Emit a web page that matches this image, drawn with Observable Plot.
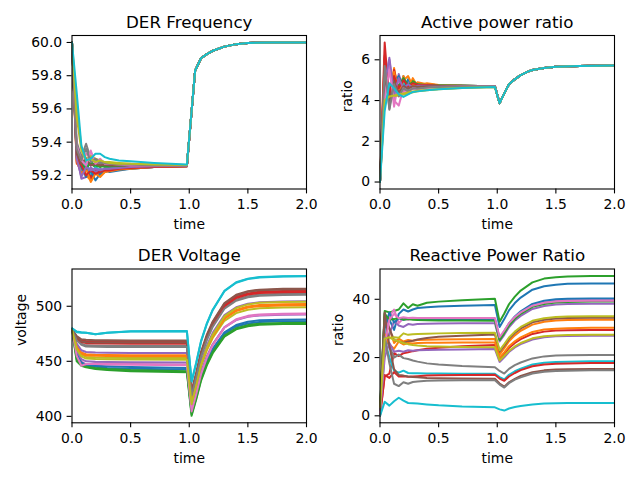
<!DOCTYPE html>
<html><head><meta charset="utf-8">
<script src="https://cdn.jsdelivr.net/npm/d3@7"></script>
<script src="https://cdn.jsdelivr.net/npm/@observablehq/plot@0.6"></script>
<style>
html,body{margin:0;padding:0;background:#fff;}
#fig{position:relative;width:640px;height:480px;overflow:hidden;background:#fff;}
#fig svg{position:absolute;left:0;top:0;overflow:visible;}
</style></head><body><div id="fig"></div>
<script>
const tab10 = ["#1f77b4","#ff7f0e","#2ca02c","#d62728","#9467bd","#8c564b","#e377c2","#7f7f7f","#bcbd22","#17becf"];
const titles = ["DER Frequency", "Active power ratio", "DER Voltage", "Reactive Power Ratio"];
const yLabels = [null, "ratio", "voltage", "ratio"];
const xLabel = "time";
const xTicks = [0, 0.5, 1, 1.5, 2];
const freqTicks = [59.2, 59.4, 59.6, 59.8, 60.0];
const activeTicks = [0, 2, 4, 6];
const voltTicks = [400, 450, 500];
const reactTicks = [0, 20, 40];

// time grids
const tEarly = [0, 0.04, 0.08, 0.12, 0.16, 0.2, 0.24, 0.28, 0.32, 0.4, 0.5, 0.7, 0.98];
const tFreqTail = [1.05, 1.1, 1.15, 1.2, 1.3, 1.4, 1.5, 1.7, 2.0];
const tActiveTail = [1.02, 1.06, 1.1, 1.14, 1.2, 1.26, 1.3, 1.4, 1.5, 1.7, 2.0];
const tVoltEarly = [0, 0.04, 0.08, 0.12, 0.2, 0.3, 0.5, 0.98];
const tTail = [1.02, 1.06, 1.1, 1.15, 1.2, 1.3, 1.4, 1.5, 1.6, 1.8, 2.0];

// DER frequency (20 DERs), before the event
const freqEarly = [
[60, 59.30, 59.22, 59.26, 59.19, 59.24, 59.21, 59.23, 59.22, 59.23, 59.24, 59.25, 59.255],
[60, 59.27, 59.30, 59.20, 59.17, 59.22, 59.20, 59.22, 59.23, 59.24, 59.245, 59.25, 59.255],
[60, 59.35, 59.26, 59.28, 59.27, 59.25, 59.26, 59.25, 59.25, 59.25, 59.25, 59.255, 59.26],
[60, 59.28, 59.22, 59.29, 59.18, 59.24, 59.22, 59.23, 59.235, 59.24, 59.245, 59.25, 59.255],
[60, 59.33, 59.18, 59.19, 59.25, 59.22, 59.24, 59.23, 59.24, 59.245, 59.25, 59.255, 59.26],
[60, 59.32, 59.28, 59.25, 59.27, 59.26, 59.265, 59.26, 59.26, 59.26, 59.26, 59.26, 59.26],
[60, 59.36, 59.24, 59.33, 59.31, 59.27, 59.28, 59.27, 59.265, 59.26, 59.26, 59.26, 59.26],
[60, 59.40, 59.31, 59.39, 59.30, 59.29, 59.27, 59.27, 59.265, 59.265, 59.265, 59.26, 59.26],
[60, 59.62, 59.37, 59.30, 59.32, 59.30, 59.29, 59.28, 59.28, 59.275, 59.27, 59.265, 59.262],
[60, 59.30, 59.23, 59.28, 59.21, 59.25, 59.23, 59.24, 59.24, 59.245, 59.25, 59.255, 59.258],
[60, 59.31, 59.25, 59.19, 59.23, 59.17, 59.21, 59.22, 59.23, 59.235, 59.24, 59.25, 59.255],
[60, 59.29, 59.21, 59.24, 59.16, 59.21, 59.19, 59.22, 59.225, 59.235, 59.24, 59.25, 59.255],
[60, 59.34, 59.27, 59.24, 59.28, 59.26, 59.25, 59.26, 59.255, 59.255, 59.255, 59.26, 59.26],
[60, 59.31, 59.26, 59.20, 59.23, 59.21, 59.22, 59.23, 59.23, 59.24, 59.245, 59.25, 59.255],
[60, 59.30, 59.19, 59.25, 59.23, 59.24, 59.23, 59.24, 59.24, 59.245, 59.25, 59.255, 59.258],
[60, 59.33, 59.27, 59.30, 59.26, 59.27, 59.26, 59.265, 59.26, 59.26, 59.26, 59.26, 59.26],
[60, 59.38, 59.29, 59.26, 59.35, 59.27, 59.30, 59.27, 59.27, 59.265, 59.26, 59.26, 59.26],
[60, 59.36, 59.29, 59.36, 59.28, 59.30, 59.28, 59.275, 59.27, 59.265, 59.265, 59.26, 59.26],
[60, 59.55, 59.35, 59.29, 59.30, 59.28, 59.29, 59.28, 59.275, 59.27, 59.27, 59.265, 59.262],
[60, 59.70, 59.38, 59.29, 59.30, 59.33, 59.33, 59.31, 59.30, 59.29, 59.285, 59.275, 59.265]
];
// common recovery after the event
const freqTail = [59.83, 59.905, 59.93, 59.95, 59.975, 59.99, 59.997, 60.0, 60.0];

// Active power ratio
const activeEarly = [
[0, 5.0, 4.1, 5.3, 4.4, 5.2, 4.6, 5.0, 4.75, 4.8, 4.75, 4.72, 4.7],
[0, 6.1, 4.0, 5.6, 4.3, 5.2, 4.5, 5.1, 4.7, 4.85, 4.76, 4.72, 4.7],
[0, 5.3, 4.3, 4.9, 4.6, 5.0, 4.7, 4.95, 4.8, 4.78, 4.74, 4.72, 4.7],
[0, 6.85, 3.9, 5.5, 4.5, 4.9, 4.65, 4.85, 4.75, 4.77, 4.74, 4.72, 4.7],
[0, 4.6, 6.0, 4.1, 5.3, 4.5, 4.9, 4.6, 4.75, 4.72, 4.72, 4.71, 4.7],
[0, 5.6, 4.4, 5.0, 4.6, 4.85, 4.7, 4.8, 4.75, 4.74, 4.72, 4.71, 4.7],
[0, 4.4, 5.7, 3.7, 5.0, 4.4, 4.6, 4.55, 4.65, 4.68, 4.7, 4.7, 4.7],
[0, 5.9, 3.6, 5.2, 4.3, 4.8, 4.55, 4.75, 4.65, 4.7, 4.7, 4.7, 4.7],
[0, 4.2, 4.2, 4.22, 4.25, 4.3, 4.35, 4.4, 4.45, 4.5, 4.55, 4.62, 4.66],
[0, 5.2, 4.5, 5.1, 4.5, 4.9, 4.6, 4.8, 4.7, 4.72, 4.72, 4.71, 4.7],
[0, 5.5, 4.2, 4.9, 5.2, 4.5, 5.05, 4.7, 4.85, 4.78, 4.74, 4.72, 4.7],
[0, 5.8, 4.3, 5.4, 4.4, 5.0, 5.2, 4.7, 4.9, 4.8, 4.75, 4.72, 4.7],
[0, 5.1, 4.5, 5.0, 4.7, 5.1, 4.75, 4.9, 4.8, 4.76, 4.74, 4.72, 4.7],
[0, 6.2, 4.3, 5.2, 4.6, 5.0, 4.7, 4.85, 4.78, 4.76, 4.73, 4.71, 4.7],
[0, 4.8, 6.1, 4.3, 5.1, 4.6, 4.8, 4.65, 4.72, 4.72, 4.71, 4.7, 4.7],
[0, 5.3, 4.0, 4.9, 4.4, 4.7, 4.6, 4.7, 4.68, 4.7, 4.7, 4.7, 4.7],
[0, 4.1, 5.5, 4.0, 3.75, 4.6, 4.4, 4.6, 4.55, 4.62, 4.66, 4.69, 4.7],
[0, 5.7, 3.55, 4.8, 4.2, 4.6, 4.45, 4.6, 4.58, 4.64, 4.67, 4.69, 4.7],
[0, 4.0, 4.2, 4.25, 4.3, 4.35, 4.4, 4.45, 4.48, 4.52, 4.57, 4.63, 4.67],
[0, 3.5, 4.85, 4.6, 4.3, 4.18, 4.3, 4.42, 4.45, 4.5, 4.55, 4.62, 4.67]
];
const activeTail = [3.87, 4.35, 4.8, 5.0, 5.25, 5.42, 5.5, 5.6, 5.66, 5.7, 5.72];

// DER voltage
const voltEarly = [
[479, 456, 448, 446, 445, 444, 443.2, 442.5],
[479, 464, 458, 456.5, 456, 455.8, 455.6, 455.5],
[479, 450, 446, 444.5, 443, 442, 441, 440],
[479, 472, 469, 468.5, 468.2, 468.1, 468, 468],
[479, 466, 460, 458.5, 458, 457.8, 457.6, 457.5],
[479, 473, 470, 469.5, 469.2, 469.1, 469, 469],
[479, 458, 450, 447, 448.5, 448, 447.5, 447],
[479, 470, 466, 464.5, 464.2, 464.1, 464, 464],
[479, 462, 456, 454, 453.5, 453.3, 453.1, 453],
[480, 476.5, 476, 476, 474.5, 476, 477, 477.3],
[479, 457, 449, 447, 446, 445.5, 444.8, 444],
[479, 463, 457, 455.3, 455, 454.8, 454.6, 454.5],
[479, 452, 447, 445, 444, 443, 442, 441],
[479, 471, 467.5, 466.5, 466.2, 466.1, 466, 466],
[479, 460, 452, 450, 449.5, 449.3, 449.1, 449],
[479, 472, 468, 467.3, 467.1, 467, 467, 467],
[479, 455, 446, 447.5, 447.5, 447, 446.8, 446.5],
[479, 469, 465, 463.5, 463.2, 463.1, 463, 463],
[479, 461, 454.5, 452.5, 452, 451.8, 451.6, 451.5],
[480, 477, 476.3, 476, 474.5, 476, 477.2, 477.5]
];
const voltTail = [
[404, 418.9, 435.4, 449.4, 460.1, 475, 481.6, 484.4, 485.7, 486.3, 486.5],
[414, 429.8, 447.4, 462.4, 473.8, 489.7, 496.7, 499.8, 501.1, 501.8, 502],
[400.5, 415.5, 432.2, 446.4, 457.3, 472.3, 479, 481.9, 483.2, 483.8, 484],
[422, 438.6, 457, 472.6, 484.6, 501.1, 508.5, 511.7, 513.1, 513.8, 514],
[415, 431.1, 449, 464.2, 475.9, 492, 499.1, 502.3, 503.6, 504.3, 504.5],
[423, 439.7, 458.3, 474.2, 486.2, 503, 510.4, 513.7, 515.1, 515.8, 516],
[405, 420.9, 438.6, 453.7, 465.2, 481.1, 488.2, 491.3, 492.6, 493.3, 493.5],
[420, 436.5, 454.8, 470.3, 482.2, 498.7, 506, 509.2, 510.6, 511.3, 511.5],
[412, 427.7, 445.1, 459.9, 471.2, 486.8, 493.8, 496.8, 498.1, 498.8, 499],
[431, 448.3, 467.6, 483.9, 496.4, 513.7, 521.4, 524.8, 526.2, 527, 527.2],
[405, 419.9, 436.5, 450.7, 461.4, 476.4, 483, 485.9, 487.2, 487.8, 488],
[413, 428.8, 446.4, 461.4, 472.8, 488.7, 495.7, 498.8, 500.1, 500.8, 501],
[402, 416.9, 433.5, 447.7, 458.4, 473.4, 480, 482.9, 484.2, 484.8, 485],
[421, 437.6, 456, 471.6, 483.6, 500.1, 507.5, 510.7, 512.1, 512.8, 513],
[408, 423.2, 440.1, 454.5, 465.5, 480.7, 487.4, 490.4, 491.7, 492.3, 492.5],
[421, 438, 456.9, 473, 485.3, 502.3, 509.8, 513.1, 514.6, 515.3, 515.5],
[404.5, 420.4, 438.1, 453.2, 464.7, 480.6, 487.7, 490.8, 492.1, 492.8, 493],
[419, 435.5, 453.8, 469.3, 481.2, 497.7, 505, 508.2, 509.6, 510.3, 510.5],
[411, 427.7, 446.3, 462.2, 474.2, 491, 498.4, 501.7, 503.1, 503.8, 504],
[432, 449.2, 468.3, 484.5, 496.9, 514.1, 521.8, 525.1, 526.5, 527.3, 527.5]
];

// Reactive power ratio
const reactEarly = [
[2, 34, 33, 29.5, 35, 36.5, 35.8, 36.5, 37, 37.3, 37.5, 37.8, 38.0],
[1, 33, 30, 25, 26.5, 25.5, 26, 25.8, 26, 26.1, 26.2, 26.3, 26.4],
[3, 36, 35.5, 36, 36.5, 38.6, 37, 38.3, 37.8, 38.8, 39.2, 39.7, 40.2],
[0, 13.5, 14.5, 21.5, 20.5, 21.5, 21.8, 22.2, 22.5, 23, 23.4, 23.9, 24.3],
[1, 22, 28, 32.5, 31, 30.5, 31.5, 31.3, 31.5, 31.6, 31.7, 31.8, 31.8],
[2, 35.5, 30, 26, 25.5, 25, 25.5, 25.8, 26.2, 26.7, 27.1, 27.5, 27.9],
[1, 26, 34, 36.5, 31.8, 33.5, 33, 33.4, 33.4, 33.4, 33.4, 33.4, 33.4],
[2, 27, 24, 20, 21, 19.8, 19.5, 19, 18.6, 18, 17.6, 17.1, 16.7],
[3, 26.5, 26.6, 27, 26.8, 28.3, 27.8, 28, 28.1, 28.2, 28.3, 28.4, 28.5],
[1, 26, 20, 15.5, 14.8, 15.5, 14.7, 14.6, 14.6, 14.5, 14.5, 14.4, 14.4],
[2, 30, 35.5, 32, 33.5, 33, 33.3, 33.2, 33.2, 33.2, 33.2, 33.2, 33.2],
[1, 28, 24.5, 23, 25.5, 24.5, 25, 24.8, 25, 25.1, 25.1, 25.2, 25.2],
[2, 35, 33, 33.2, 33.6, 33, 33.2, 33, 32.9, 32.8, 32.7, 32.7, 32.6],
[0, 14, 13, 15, 13.5, 13.6, 13.4, 13.5, 13.6, 13.8, 13.9, 14, 14.1],
[1, 20, 25, 22, 22.3, 22, 22.5, 22.3, 22.5, 22.6, 22.7, 22.8, 22.9],
[2, 35, 24, 16, 14, 13.8, 13.5, 13.3, 13.2, 13, 12.9, 12.8, 12.7],
[1, 24, 33, 35, 33.5, 33.8, 33.6, 33.7, 33.6, 33.6, 33.6, 33.6, 33.6],
[2, 27, 18, 11, 10.2, 11.5, 11, 11.6, 11.8, 12, 12.1, 12.2, 12.2],
[3, 26.5, 27, 26, 25.5, 25, 24.6, 24.3, 24.1, 23.9, 23.8, 23.6, 23.5],
[0, 4.8, 3.5, 5, 6.2, 5.2, 4.4, 4.3, 4.2, 3.9, 3.6, 3.2, 2.9]
];
const reactTail = [
[30.5, 33.2, 36.2, 38.7, 40.6, 43.3, 44.5, 45.0, 45.3, 45.4, 45.4],
[21, 23.2, 25.6, 27.6, 29.2, 31.3, 32.3, 32.7, 32.9, 33, 33],
[32.3, 35.1, 38.3, 40.9, 43, 45.8, 47.1, 47.6, 47.8, 48, 48],
[19.5, 21.3, 23.3, 25, 26.3, 28.1, 28.9, 29.3, 29.4, 29.5, 29.5],
[25.5, 27.8, 30.4, 32.7, 34.3, 36.7, 37.7, 38.2, 38.4, 38.5, 38.5],
[22, 24.1, 26.4, 28.4, 30, 32.1, 33, 33.4, 33.6, 33.7, 33.7],
[26.5, 28.9, 31.6, 33.8, 35.5, 37.9, 39, 39.5, 39.7, 39.8, 39.8],
[15.4, 14.5, 16.1, 17.4, 18.3, 19.7, 20.4, 20.7, 20.8, 20.9, 20.9],
[22.5, 24.6, 26.9, 28.9, 30.5, 32.6, 33.5, 33.9, 34.1, 34.2, 34.2],
[13.3, 12.5, 14.1, 15.3, 16.2, 17.6, 18.2, 18.5, 18.6, 18.7, 18.7],
[26.5, 29, 31.7, 34.1, 35.9, 38.4, 39.5, 40, 40.2, 40.3, 40.3],
[20, 21.8, 23.9, 25.6, 26.9, 28.8, 29.6, 29.9, 30.1, 30.2, 30.2],
[26, 28.4, 31, 33.3, 35, 37.4, 38.4, 38.9, 39.1, 39.2, 39.2],
[12.8, 12, 13.5, 14.7, 15.7, 17, 17.6, 17.9, 18, 18.1, 18.1],
[18.5, 20.1, 21.9, 23.5, 24.6, 26.2, 27, 27.3, 27.4, 27.5, 27.5],
[11.1, 10, 11.5, 12.7, 13.7, 15, 15.6, 15.9, 16, 16.1, 16.1],
[27, 29.3, 31.8, 33.9, 35.5, 37.8, 38.8, 39.2, 39.4, 39.5, 39.5],
[10.7, 9.7, 11.2, 12.4, 13.2, 14.5, 15.1, 15.4, 15.5, 15.6, 15.6],
[19, 20.6, 22.3, 23.8, 25, 26.6, 27.3, 27.6, 27.7, 27.8, 27.8],
[2.2, 1.8, 2.5, 3, 3.4, 3.9, 4.2, 4.3, 4.4, 4.4, 4.4]
];

// build long-form rows
function rowsFrom(tA, early, tB, tailFor) {
  const rows = [];
  early.forEach((vals, s) => {
    tA.forEach((t, j) => rows.push({t, v: vals[j], s}));
    const tail = tailFor(s);
    tB.forEach((t, j) => rows.push({t, v: tail[j], s}));
  });
  return rows;
}
const freqRows = rowsFrom(tEarly, freqEarly, tFreqTail, () => freqTail);
const activeRows = rowsFrom(tEarly, activeEarly, tActiveTail, () => activeTail);
const voltRows = rowsFrom(tVoltEarly, voltEarly, tTail, s => voltTail[s]);
const reactRows = rowsFrom(tEarly, reactEarly, tTail, s => reactTail[s]);

const f1 = d3.format(".1f"), f0 = d3.format("d");

function panel(rows, title, ylabel, ylabelDx, yticks, yfmt, box) {
  const [x0, x1, y0, y1] = box;
  const ext = d3.extent(rows, d => d.v);
  const pad = (ext[1] - ext[0]) * 0.05;
  return Plot.plot({
    width: 640, height: 480,
    marginLeft: x0, marginRight: 640 - x1, marginTop: y0, marginBottom: 480 - y1,
    style: {fontFamily: "'DejaVu Sans', sans-serif", fontSize: "13.9px", color: "#000", background: "transparent", overflow: "visible"},
    x: {domain: [0, 2]},
    y: {domain: [ext[0] - pad, ext[1] + pad]},
    color: {type: "identity"},
    marks: [
      Plot.line(rows, {x: "t", y: "v", z: "s", stroke: d => tab10[d.s % 10], strokeWidth: 2, clip: true}),
      Plot.frame({stroke: "#000", strokeWidth: 1.1}),
      Plot.axisX({ticks: xTicks, tickFormat: f1, tickSize: 4.9, tickPadding: 5.5, label: null, strokeWidth: 1.1, fontSize: 13.9}),
      Plot.axisY({ticks: yticks, tickFormat: yfmt, tickSize: 4.9, tickPadding: 4.9, label: null, strokeWidth: 1.1, fontSize: 13.9}),
      Plot.text([xLabel], {text: d => d, frameAnchor: "bottom", lineAnchor: "bottom", dy: 40, fontSize: 13.9}),
      Plot.text([title], {text: d => d, frameAnchor: "top", lineAnchor: "bottom", dy: -8, fontSize: 16.7}),
      ylabel ? Plot.text([ylabel], {text: d => d, frameAnchor: "left", rotate: -90, dx: ylabelDx, fontSize: 13.9}) : null
    ]
  });
}

const fig = document.getElementById("fig");
fig.appendChild(panel(freqRows, titles[0], yLabels[0], 0, freqTicks, f1, [71.5, 306, 35, 188.5]));
fig.appendChild(panel(activeRows, titles[1], yLabels[1], -32, activeTicks, f0, [379.5, 614, 35, 188.5]));
fig.appendChild(panel(voltRows, titles[2], yLabels[2], -50, voltTicks, f0, [71.5, 306, 268.5, 422.3]));
fig.appendChild(panel(reactRows, titles[3], yLabels[3], -41, reactTicks, f0, [379.5, 614, 268.5, 422.3]));
</script></body></html>
